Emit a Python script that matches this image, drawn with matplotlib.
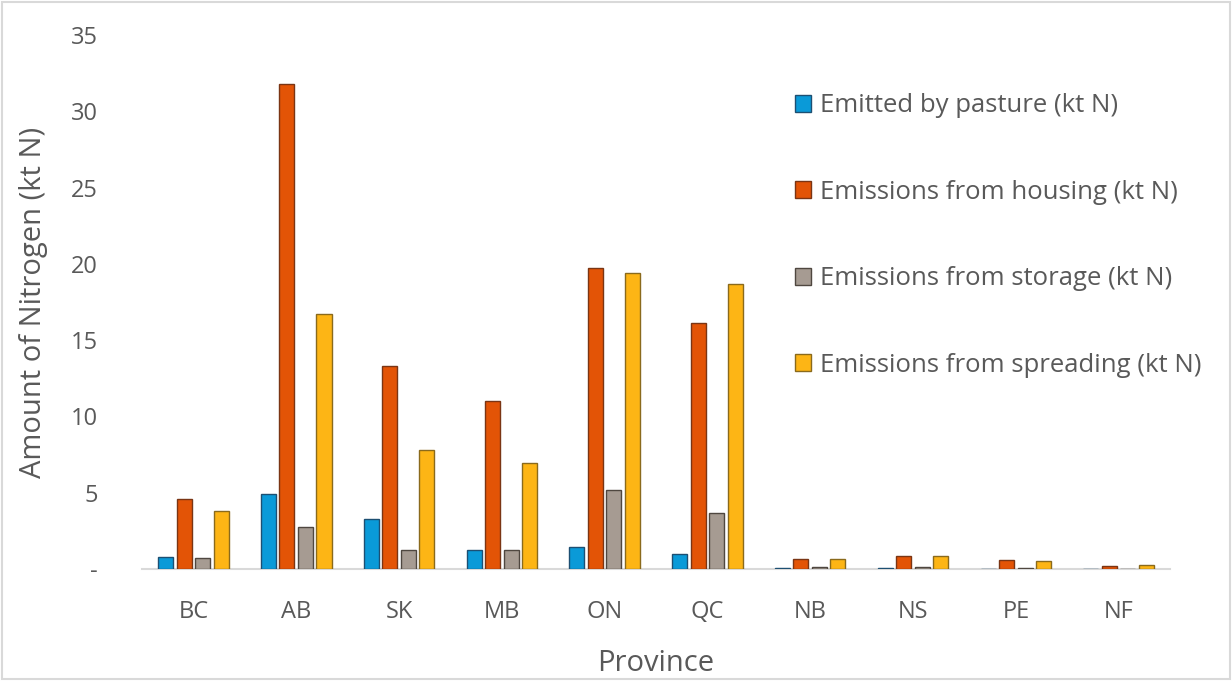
import numpy as np
import matplotlib
matplotlib.use("Agg")
import matplotlib.pyplot as plt
from matplotlib.patches import Rectangle

plt.rcParams['font.family'] = ['Open Sans', 'DejaVu Sans']

# ammonia-N emissions by province (kt N)
provinces = ['BC', 'AB', 'SK', 'MB', 'ON', 'QC', 'NB', 'NS', 'PE', 'NF']
pasture = [0.8, 4.9, 3.3, 1.25, 1.45, 0.98, 0.05, 0.05, 0.0, 0.0]
housing = [4.6, 31.8, 13.3, 11.0, 19.7, 16.1, 0.65, 0.85, 0.6, 0.2]
storage = [0.72, 2.75, 1.25, 1.25, 5.2, 3.65, 0.1, 0.1, 0.05, 0.0]
spreading = [3.8, 16.7, 7.8, 6.95, 19.4, 18.7, 0.65, 0.85, 0.52, 0.26]

series = [
    ('Emitted by pasture (kt N)', pasture, '#0a9ad8', '#1d4f72'),
    ('Emissions from housing (kt N)', housing, '#e35406', '#7a3514'),
    ('Emissions from storage (kt N)', storage, '#a69b92', '#4f4740'),
    ('Emissions from spreading (kt N)', spreading, '#fdb515', '#8a6a1c'),
]

text_col = '#595959'

fig = plt.figure(figsize=(12.32, 6.81), dpi=100)
ax = fig.add_axes([0.1153, 0.1645, 0.8344, 0.784])

x = np.arange(len(provinces))
step = 0.18
width = 0.146
for i, (name, vals, fc, ec) in enumerate(series):
    ax.bar(x + (i - 1.5) * step, vals, width, color=fc, edgecolor=ec,
           linewidth=1.0, label=name, zorder=3)

ax.set_xlim(-0.5, len(provinces) - 0.5)
ax.set_ylim(0, 35)
ax.set_yticks(range(0, 36, 5))
ax.set_yticklabels(['-'] + [str(v) for v in range(5, 36, 5)])
ax.set_xticks(x)
ax.set_xticklabels(provinces)

for s in ['top', 'right', 'left']:
    ax.spines[s].set_visible(False)
ax.spines['bottom'].set_color('#d9d9d9')
ax.spines['bottom'].set_linewidth(1.5)
ax.tick_params(axis='y', length=0, pad=32, labelsize=17, labelcolor=text_col)
ax.tick_params(axis='x', length=0, pad=22, labelsize=17, labelcolor=text_col)

ax.set_xlabel('Province', fontsize=21, color=text_col, labelpad=18)
ax.set_ylabel('Amount of Nitrogen (kt N)', fontsize=21, color=text_col, labelpad=16)

leg = ax.legend(loc='upper left', bbox_to_anchor=(0.613, 0.934), frameon=False,
                fontsize=18.5, labelspacing=2.39, handlelength=0.62,
                handleheight=0.62, handletextpad=0.35)
for t in leg.get_texts():
    t.set_color(text_col)

# light frame around the whole chart area
fig.patches.append(Rectangle((0.002, 0.003), 0.996, 0.994, transform=fig.transFigure,
                             fill=False, edgecolor='#d9d9d9', linewidth=1.5))

fig.savefig('out.png', dpi=100)
